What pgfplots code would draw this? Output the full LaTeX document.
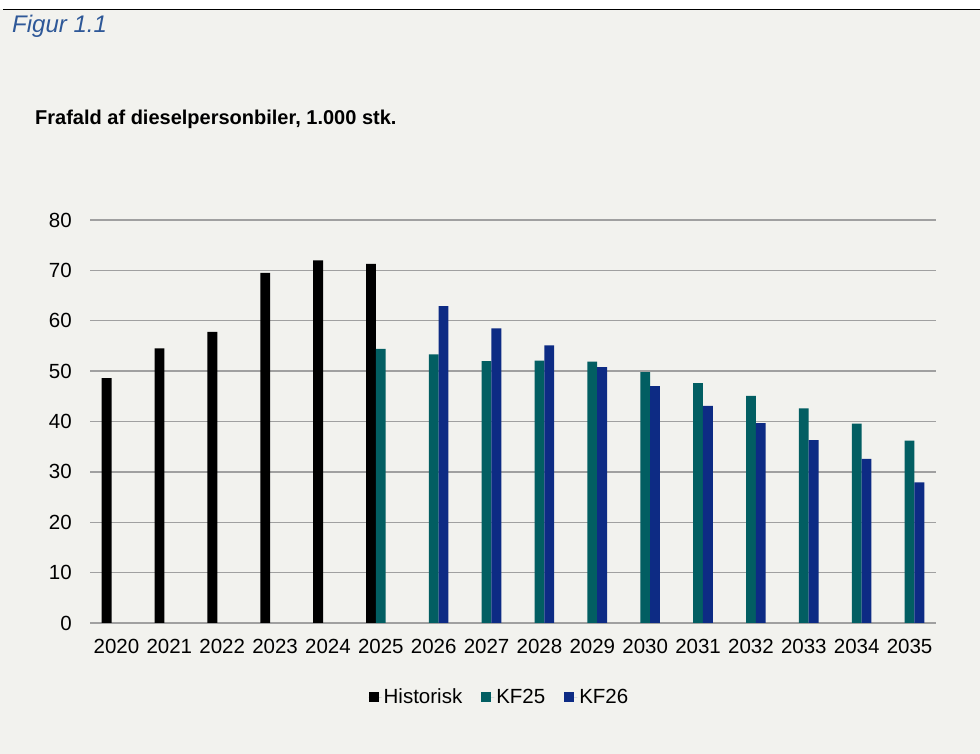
\documentclass[border=0pt]{standalone}
\usepackage{pgfplots}
\pgfplotsset{compat=1.18}
\usepackage{fontspec}
\setmainfont{Liberation Sans}
\definecolor{bg}{RGB}{242,242,238}
\definecolor{teal25}{RGB}{2,94,98}
\definecolor{blue26}{RGB}{13,43,132}
\definecolor{figblue}{RGB}{46,88,152}
\definecolor{gridgray}{RGB}{160,160,160}
\begin{document}
\begin{tikzpicture}[x=1bp,y=1bp]
\useasboundingbox (0,0) rectangle (980,754);
\fill[white] (0,0) rectangle (980,754);
\fill[bg] (0,0) rectangle (980,744.5);
\draw[black, line width=1.5bp] (3,744.5) -- (980,744.5);
\node[anchor=base west, inner sep=0pt, text=figblue, font=\fontsize{24bp}{28bp}\selectfont\itshape] at (12,721.7) {Figur 1.1};
\node[anchor=base west, inner sep=0pt, font=\fontsize{20bp}{24bp}\selectfont\bfseries] at (35,629) {Frafald af dieselpersonbiler, 1.000 stk.};
\begin{axis}[
  at={(90bp,131bp)}, anchor=south west,
  scale only axis, width=846bp, height=403bp,
  ybar=0pt, bar width=9.8bp,
  xmin=-0.5, xmax=15.5, ymin=0, ymax=80,
  xtick={0,...,15},
  xticklabels={2020,2021,2022,2023,2024,2025,2026,2027,2028,2029,2030,2031,2032,2033,2034,2035},
  ytick={0,10,...,80},
  /pgf/number format/assume math mode=true,
  axis line style={draw=none},
  major tick length=0pt,
  ymajorgrids, grid style={gridgray, line width=1.3bp},
  tick label style={font=\fontsize{20.5bp}{24bp}\selectfont},
  yticklabel style={anchor=east, inner sep=0pt, xshift=-18bp},
  xticklabel style={anchor=north, inner sep=0pt, yshift=-16bp},
  legend columns=3,
  legend style={draw=none, fill=none, at={(0.484,-0.184)}, anchor=center,
    font=\fontsize{20.5bp}{24bp}\selectfont,
    nodes={inner sep=2bp},
    /tikz/every even column/.append style={column sep=17bp}},
  legend image code/.code={\fill[#1,draw=none] (0bp,-5bp) rectangle (10bp,5bp); \path (0bp,0bp) -- (13bp,0bp);},
]
\addplot[fill=black, draw=none] coordinates {(0,48.6)(1,54.5)(2,57.8)(3,69.5)(4,72.0)(5,71.3)};
\addplot[fill=teal25, draw=none] coordinates {(5,54.4)(6,53.3)(7,52.0)(8,52.1)(9,51.9)(10,49.8)(11,47.6)(12,45.1)(13,42.6)(14,39.6)(15,36.2)};
\addplot[fill=blue26, draw=none] coordinates {(6,62.9)(7,58.5)(8,55.1)(9,50.8)(10,47.0)(11,43.1)(12,39.7)(13,36.3)(14,32.6)(15,27.9)};
\legend{Historisk,KF25,KF26}
\end{axis}
\end{tikzpicture}
\end{document}
